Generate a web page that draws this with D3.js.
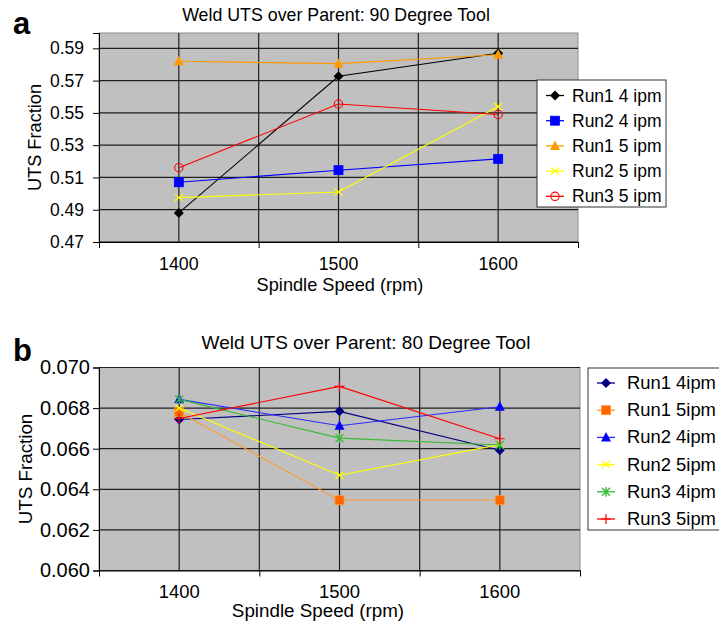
<!DOCTYPE html>
<html>
<head>
<meta charset="utf-8">
<script src="https://cdn.jsdelivr.net/npm/d3@7"></script>
<style>
  body { margin: 0; background: #fff; }
  svg text { font-family: "Liberation Sans", Arial, sans-serif; fill: #000; }
</style>
</head>
<body>
<svg id="chart" width="719" height="623"></svg>
<script>
// spindle speeds (category axis)
var speeds = [1400, 1500, 1600];

// panel a: 90 degree tool
var aNames = ["Run1 4 ipm", "Run2 4 ipm", "Run1 5 ipm", "Run2 5 ipm", "Run3 5 ipm"];
var aRun1_4 = [0.488, 0.5727, 0.5870];
var aRun2_4 = [0.507, 0.5145, 0.5215];
var aRun1_5 = [0.582, 0.5805, 0.5860];
var aRun2_5 = [0.4975, 0.5010, 0.5540];
var aRun3_5 = [0.516, 0.5555, 0.5490];
var aTicks = [0.47, 0.49, 0.51, 0.53, 0.55, 0.57, 0.59];

// panel b: 80 degree tool
var bNames = ["Run1 4ipm", "Run1 5ipm", "Run2 4ipm", "Run2 5ipm", "Run3 4ipm", "Run3 5ipm"];
var bRun1_4 = [0.06744, 0.06784, 0.06592];
var bRun1_5 = [0.06780, 0.06346, 0.06346];
var bRun2_4 = [0.06843, 0.06713, 0.06807];
var bRun2_5 = [0.06800, 0.06469, 0.06620];
var bRun3_4 = [0.06843, 0.06652, 0.06618];
var bRun3_5 = [0.06749, 0.06907, 0.06649];
var bTicks = [0.060, 0.062, 0.064, 0.066, 0.068, 0.070];

var svg = d3.select("#chart");

function marker(g, type, color, fill)
{
    switch(type)
    {
        case 'diamond':
            g.append('path').attr('d', 'M0,-5L5,0L0,5L-5,0Z').attr('fill', color);
            break;
        case 'square':
            g.append('rect').attr('x', -4.5).attr('y', -4.5).attr('width', 9).attr('height', 9)
                .attr('fill', fill || color).attr('stroke', color).attr('stroke-width', 0.8);
            break;
        case 'triangle':
            g.append('path').attr('d', 'M0,-5.5L5,4L-5,4Z').attr('fill', color);
            break;
        case 'x':
            g.append('path').attr('d', 'M-4,-3.5L4,3.5M-4,3.5L4,-3.5').attr('stroke', color).attr('stroke-width', 1.3);
            break;
        case 'circle':
            g.append('circle').attr('r', 4.2).attr('fill', 'none').attr('stroke', color).attr('stroke-width', 1.1);
            break;
        case 'star':
            g.append('path').attr('d', 'M-4,-4L4,4M-4,4L4,-4M0,-5L0,5').attr('stroke', color).attr('stroke-width', 1.3);
            break;
        case 'plus':
            g.append('path').attr('d', 'M-5,0L5,0M0,-5L0,5').attr('stroke', color).attr('stroke-width', 1.2);
            break;
    }
}

function drawChart(cfg)
{
    var g = svg.append('g');
    var x = d3.scaleLinear().domain([1350, 1650]).range([cfg.left, cfg.right]);
    var y = d3.scaleLinear().domain(cfg.yDomain).range([cfg.bottom, cfg.top]);

    // plot area
    g.append('rect')
        .attr('x', cfg.left).attr('y', cfg.top)
        .attr('width', cfg.right - cfg.left).attr('height', cfg.bottom - cfg.top)
        .attr('fill', '#c0c0c0').attr('stroke', '#8c8c8c').attr('stroke-width', 1);

    // gridlines
    g.selectAll('.hg').data(cfg.ticks).enter().append('line')
        .attr('x1', cfg.left).attr('x2', cfg.right)
        .attr('y1', d => y(d)).attr('y2', d => y(d))
        .attr('stroke', '#202020').attr('stroke-width', 1.2);
    g.selectAll('.vg').data([1400, 1450, 1500, 1550, 1600]).enter().append('line')
        .attr('y1', cfg.top).attr('y2', cfg.bottom)
        .attr('x1', d => x(d)).attr('x2', d => x(d))
        .attr('stroke', '#202020').attr('stroke-width', 1.2);

    // y axis
    var yAxis = d3.axisLeft(y).tickValues(cfg.ticks).tickFormat(d3.format(cfg.fmt)).tickSize(6).tickPadding(cfg.yPad);
    var ya = g.append('g').attr('transform', 'translate(' + cfg.left + ',0)').call(yAxis);
    ya.select('.domain').attr('stroke', '#000');
    ya.selectAll('text').style('font-size', cfg.yTickSize + 'px').style('font-family', '"Liberation Sans", Arial, sans-serif');

    // x axis
    var xTicks = d3.axisBottom(x).tickValues([1350, 1450, 1550, 1650]).tickFormat('').tickSize(6).tickSizeOuter(0);
    var xa = g.append('g').attr('transform', 'translate(0,' + cfg.bottom + ')').call(xTicks);
    xa.select('.domain').attr('stroke', '#000');
    g.selectAll('.xl').data(speeds).enter().append('text')
        .attr('x', d => x(d)).attr('y', cfg.bottom + 27.5)
        .attr('text-anchor', 'middle').style('font-size', cfg.xTickSize + 'px')
        .text(d => d);

    // titles
    g.append('text').attr('x', cfg.titleX).attr('y', cfg.titleY)
        .attr('text-anchor', 'middle').style('font-size', cfg.titleSize + 'px').text(cfg.title);
    g.append('text').attr('x', cfg.xTitleX).attr('y', cfg.xTitleY)
        .attr('text-anchor', 'middle').style('font-size', cfg.axisSize + 'px').text('Spindle Speed (rpm)');
    g.append('text')
        .attr('transform', 'translate(' + cfg.yTitleX + ',' + (cfg.top + cfg.bottom) / 2 + ') rotate(-90)')
        .attr('text-anchor', 'middle').style('font-size', cfg.axisSize + 'px').text('UTS Fraction');
    g.append('text').attr('x', 13).attr('y', cfg.letterY)
        .style('font-size', '31px').style('font-weight', 'bold').text(cfg.letter);

    // series
    var line = d3.line().x((d, i) => x(speeds[i])).y(d => y(d));
    cfg.series.forEach(function(s) {
        g.append('path').datum(s.values).attr('d', line)
            .attr('fill', 'none').attr('stroke', s.color).attr('stroke-width', 1.1);
        s.values.forEach(function(v, i) {
            var m = g.append('g').attr('transform', 'translate(' + x(speeds[i]) + ',' + y(v) + ')');
            marker(m, s.marker, s.mcolor || s.color, s.fill);
        });
    });

    // legend
    var lg = g.append('g');
    lg.append('rect').attr('x', cfg.legX).attr('y', cfg.legY)
        .attr('width', cfg.legW).attr('height', cfg.legH)
        .attr('fill', '#fff').attr('stroke', '#333').attr('stroke-width', 1);
    cfg.series.forEach(function(s, i) {
        var ry = cfg.legY + cfg.legFirst + i * cfg.legStep;
        lg.append('line').attr('x1', cfg.legX + 9).attr('x2', cfg.legX + 27)
            .attr('y1', ry).attr('y2', ry).attr('stroke', s.color).attr('stroke-width', 1.3);
        var m = lg.append('g').attr('transform', 'translate(' + (cfg.legX + 18) + ',' + ry + ')');
        marker(m, s.marker, s.mcolor || s.color, s.fill);
        lg.append('text').attr('x', cfg.legX + cfg.legText).attr('y', ry + 6)
            .style('font-size', cfg.legSize + 'px').text(s.name);
    });
}

drawChart({
    letter: 'a', letterY: 34,
    title: 'Weld UTS over Parent: 90 Degree Tool', titleX: 336, titleY: 21, titleSize: 17.8,
    left: 99, right: 578, top: 33, bottom: 242,
    yDomain: [0.47, 0.5995], ticks: aTicks, fmt: '.2f', yTickSize: 17.5, yPad: 9, xTickSize: 17.8,
    xTitleX: 340, xTitleY: 291, yTitleX: 41, axisSize: 18.2,
    legX: 537, legY: 80, legW: 129, legH: 127, legFirst: 15.5, legStep: 25.2, legText: 35, legSize: 17.5,
    series: [
        {name: aNames[0], values: aRun1_4, color: '#000000', marker: 'diamond'},
        {name: aNames[1], values: aRun2_4, color: '#0000ff', marker: 'square'},
        {name: aNames[2], values: aRun1_5, color: '#ff9900', marker: 'triangle'},
        {name: aNames[3], values: aRun2_5, color: '#ffff00', marker: 'x'},
        {name: aNames[4], values: aRun3_5, color: '#ff0000', marker: 'circle'}
    ]
});

drawChart({
    letter: 'b', letterY: 361,
    title: 'Weld UTS over Parent: 80 Degree Tool', titleX: 366, titleY: 349, titleSize: 19,
    left: 99, right: 580, top: 367.5, bottom: 570.5,
    yDomain: [0.060, 0.070], ticks: bTicks, fmt: '.3f', yTickSize: 20, yPad: 3, xTickSize: 18.4,
    xTitleX: 318, xTitleY: 617, yTitleX: 32, axisSize: 18.8,
    legX: 588, legY: 368, legW: 140, legH: 162, legFirst: 15, legStep: 27.2, legText: 39, legSize: 18.4,
    series: [
        {name: bNames[0], values: bRun1_4, color: '#000080', marker: 'diamond'},
        {name: bNames[1], values: bRun1_5, color: '#ff9933', mcolor: '#ff9933', fill: '#ff6600', marker: 'square'},
        {name: bNames[2], values: bRun2_4, color: '#2a2aff', mcolor: '#0000ff', marker: 'triangle'},
        {name: bNames[3], values: bRun2_5, color: '#ffff00', marker: 'x'},
        {name: bNames[4], values: bRun3_4, color: '#33bb33', marker: 'star'},
        {name: bNames[5], values: bRun3_5, color: '#ff0000', marker: 'plus'}
    ]
});
</script>
</body>
</html>
